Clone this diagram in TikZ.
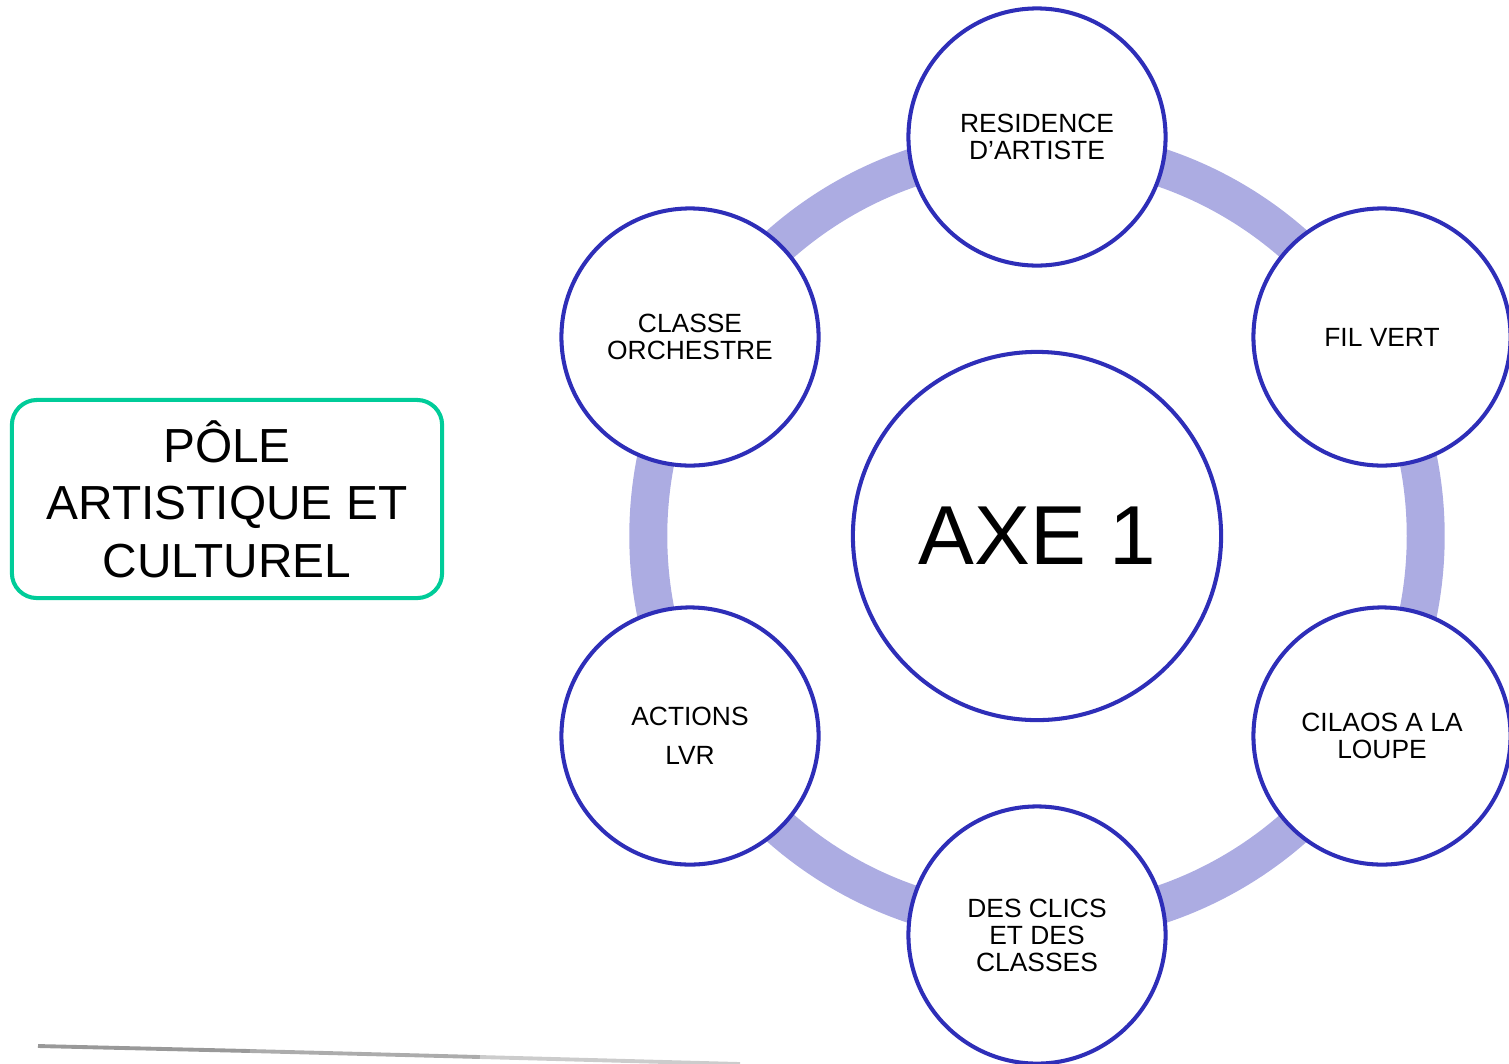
\documentclass[tikz,border=0pt]{standalone}
\usepackage{fontspec}
\setmainfont{Liberation Sans}
\definecolor{ringblue}{RGB}{46,46,184}
\definecolor{ringlight}{RGB}{172,172,226}
\definecolor{boxgreen}{RGB}{0,204,153}
\tikzset{
  px/.style={x=0.01cm,y=-0.01cm},
  smallc/.style={circle,draw=ringblue,fill=white,line width=1.15pt,minimum size=2.57cm,inner sep=0pt,align=center,
    font=\fontsize{7.5pt}{7.7pt}\selectfont},
  bigc/.style={circle,draw=ringblue,fill=white,line width=1.15pt,minimum size=3.68cm,inner sep=0pt,
    font=\fontsize{23.8pt}{28pt}\selectfont},
  polebox/.style={draw=boxgreen,line width=1.15pt,rounded corners=0.25cm,minimum width=4.3cm,minimum height=1.98cm,
    align=center,inner sep=0pt,font=\fontsize{13.6pt}{16.4pt}\selectfont},
  ring/.style={draw=ringlight,line width=10.8pt},
}
\begin{document}
\begin{tikzpicture}[px]
\useasboundingbox (0,0) rectangle (1509,1063);
% ring behind the circles
\coordinate (c0) at (1037,536);
\draw[ring] (c0) circle (3.885cm);
% bottom grey line
\coordinate (l1) at (38,1046);
\coordinate (l2) at (250,1051);
\coordinate (l3) at (480,1057);
\coordinate (l4) at (740,1064);
\draw[gray!80,line width=1.1pt] (l1) -- (l2);
\draw[gray!65,line width=1.1pt] (l2) -- (l3);
\draw[gray!40,line width=1.1pt] (l3) -- (l4);
% nodes
\node[bigc] (axe) at (1037,536) {AXE 1};
\node[smallc] (res) at (1037,137) {RESIDENCE\\D’ARTISTE};
\node[smallc] (fil) at (1382,337) {FIL VERT};
\node[smallc] (cil) at (1382,736) {CILAOS A LA\\LOUPE};
\node[smallc] (des) at (1037,935) {DES CLICS\\ET DES\\CLASSES};
\node[smallc,font=\fontsize{7.5pt}{11pt}\selectfont] (act) at (690,736) {ACTIONS\\LVR};
\node[smallc] (cla) at (690,337) {CLASSE\\ORCHESTRE};
\node[polebox] (pole) at (227,499) {PÔLE\\ARTISTIQUE ET\\CULTUREL};
\end{tikzpicture}
\end{document}
